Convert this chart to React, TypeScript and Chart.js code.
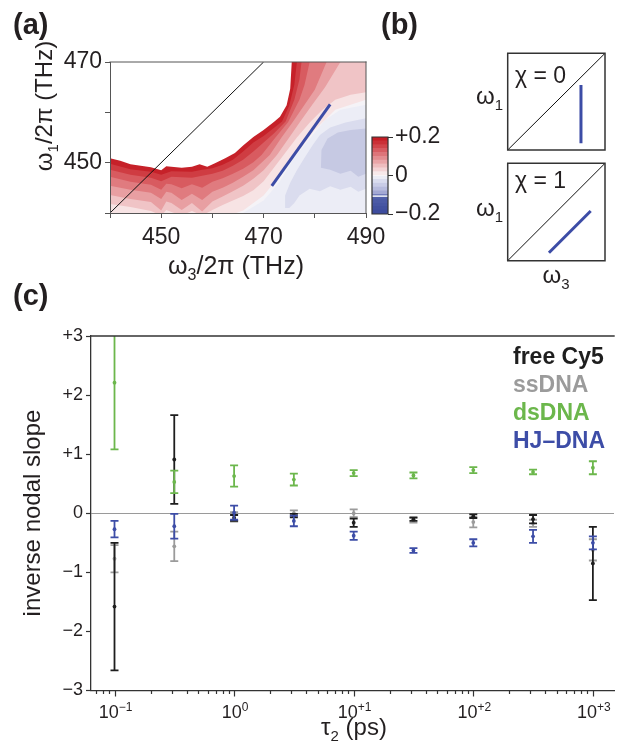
import React, { useEffect, useRef } from 'react';
import { Chart, registerables } from 'chart.js';

Chart.register(...registerables);

const FONT = "'Liberation Sans', Arial, Helvetica, sans-serif";
Chart.defaults.font.family = FONT;
const INK = '#231f20';
const AXIS = '#333333';

// ================= Panel (a): 2D map =================
const w3TickValues = [440, 450, 460, 470, 480, 490];
const w3TickLabels = ['', '450', '', '470', '', '490'];
const w1TickValues = [440, 450, 460, 470];
const w1TickLabels = ['', '450', '', '470'];

// upper boundary of the data (white above)
const maskEdge = [[440,450.9],[442,450.4],[444,449.7],[446,449.4],[448,449.1],[450,448.5],[451,449.3],[452,449.2],[454,449.0],[456,449.2],[457.5,449.7],[459,449.2],[460.5,449.9],[462.5,450.9],[464.4,451.9],[466,453.4],[468,455.1],[470,456.5],[472,458.1],[473.2,459.1],[474.5,461.4],[475.2,464.7],[475.5,470],[490,470]];
// positive contour lines (level: +0.16 ... +0.005)
const contourP16 = [[440,449.8],[444,448.7],[448,448.2],[450,447.6],[452,448.3],[456,448.2],[458,448.6],[460,448.9],[462,449.6],[464,450.6],[466,452.2],[468,454.0],[470,455.3],[472,456.9],[473.6,458.2],[475,461.3],[476,465.5],[476.5,470],[490,470]];
const contourP12 = [[440,448.6],[444,447.6],[448,447.0],[450,446.3],[452,447.2],[456,447.0],[458,447.4],[460,447.8],[462,448.4],[464,449.4],[466,450.6],[468,452.2],[470,454.0],[472,455.8],[474.3,458.2],[476,462.5],[477,466.5],[477.4,470],[490,470]];
const contourP09 = [[440,447.2],[444,446.2],[448,445.6],[450,444.6],[451,445.8],[452,445.7],[454,444.9],[456,445.7],[458,445.0],[460,446.2],[462,446.9],[464,447.8],[466,448.8],[468,450.1],[469.6,451.5],[472,454.6],[474.8,458.1],[477,462.5],[478,465.5],[479,470],[490,470]];
const contourP06 = [[440,445.4],[444,444.6],[448,444.0],[450,442.8],[451,444.2],[452,444.0],[454,442.6],[456,443.8],[458,442.6],[460,444.2],[462,445.0],[464,446.0],[466,447.2],[468,448.5],[471.2,451.5],[473.5,455],[475.7,458.1],[478,461.5],[480,464.5],[482.3,470],[490,470]];
const contourP04 = [[440,443.6],[444,442.8],[448,442.2],[450,440.5],[451,442.3],[452,442.0],[454,440.6],[456,442.0],[458,440.3],[460,442.3],[462,443.3],[464,444.3],[466,445.4],[468,446.8],[470,448.5],[472.6,451.5],[475,455],[477.1,458.1],[479.5,461.5],[482,465],[485,470],[490,470]];
const contourP02 = [[440,441.8],[444,441.2],[448,440.4],[450,439.5],[451,440.6],[452,440.2],[454,439.5],[456,440.4],[458,439.5],[460,440.6],[462,441.6],[464,442.5],[466,443.4],[468,444.5],[470,446.3],[473.9,451.5],[476.5,455],[479.1,458.1],[481.5,460.5],[484,462.5],[487,463.5],[490,464]];
const contourP005 = [[440,439],[462,439],[466,440.5],[470,443.5],[474,448.5],[477,452.5],[480,456.5],[484,460.5],[490,462.5]];
// negative contour regions (closed shapes)
const regionN01 = [[466,440],[470,442.5],[473,446],[476,451],[478,453.5],[480,456],[482,458.5],[485,460.5],[490,461.5],[490,440]];
const regionN04 = [[474.3,441],[474.2,443.5],[475.2,446],[476.5,448.5],[478,451],[479.6,453.5],[481,455.5],[483,457],[486,458],[490,458.8],[490,444.8],[488.5,444.2],[487,445.2],[485,444.6],[483,445.3],[481,444.3],[479,444.8],[477,443.5],[476,442],[475,441]];
const regionN07 = [[481.2,449],[481.3,452.5],[482.5,454.8],[484.5,456],[487,456.5],[490,456.8],[490,447.8],[488.5,447.2],[487,448.4],[485,447.8],[483,448.6]];
const diagonalA = [[440,440],[470,470]];
const nodalLineA = [[471.6,445.4],[483.0,461.6]];

const redContours = [contourP005, contourP02, contourP04, contourP06, contourP09, contourP12, contourP16];
const redColors = ['#f7e3e4', '#f0c4c6', '#e89fa2', '#e07b7f', '#d85b60', '#cf3c42', '#c62129'];
const blueRegions = [regionN01, regionN04, regionN07];
const blueColors = ['#ecedf6', '#dadcee', '#c6c9e3'];
const MAP_BG = '#f5f3f7';
const NODAL = '#3c4ca6';

// colour bar
const cbEdges = [-0.2,-0.18,-0.16,-0.14,-0.12,-0.1,-0.08,-0.06,-0.04,-0.02,0,0.02,0.04,0.06,0.08,0.1,0.12,0.14,0.16,0.18,0.2];
const cbColors = ['#3d4c9e','#42519f','#4756a3','#4c5ba6','#5260a9','#a4a9d4','#b7bbdd','#c9cce6','#dadcee','#ebecf5','#f7e9ea','#f3d3d5','#eebcbe','#e9a4a7','#e38c90','#dd7479','#d75c62','#d1454b','#cb3037','#c51d25'];
const cbSeparator = [-0.109, -0.105];
const cbTicks = [-0.2, 0, 0.2];
const cbTickLabels = ['\u22120.2', '0', '+0.2'];

// ================= Panel (b): schematics =================
const schematicDiagonal = [[0,0],[1,1]];
const nodalChi0 = [[0.753,0.069],[0.753,0.672]];
const nodalChi1 = [[0.424,0.082],[0.853,0.51]];

// ================= Panel (c): inverse nodal slope =================
const tau = [0.1, 0.316, 1, 3.16, 10, 31.6, 100, 316, 1000];
const tauDecades = [0.1, 1, 10, 100, 1000];
const tauDecadeExps = ['\u22121', '0', '+1', '+2', '+3'];
const slopeTickValues = [-3, -2, -1, 0, 1, 2, 3];
const slopeTickLabels = ['\u22123', '\u22122', '\u22121', '0', '+1', '+2', '+3'];
const seriesNames = ['free Cy5', 'ssDNA', 'dsDNA', 'HJ\u2013DNA'];
const freeCy5 = [-1.58, 0.91, -0.08, -0.04, -0.16, -0.10, -0.05, -0.10, -0.85];
const freeCy5Err = [1.08, 0.75, 0.05, 0.03, 0.07, 0.03, 0.03, 0.07, 0.62];
const ssDNA = [-0.77, -0.56, -0.06, 0.0, 0.0, -0.12, -0.15, -0.17, -0.62];
const ssDNAErr = [0.23, 0.25, 0.08, 0.05, 0.065, 0.04, 0.09, 0.06, 0.18];
const dsDNA = [2.21, 0.53, 0.63, 0.57, 0.68, 0.64, 0.73, 0.70, 0.77];
const dsDNAErr = [1.13, 0.19, 0.18, 0.10, 0.05, 0.05, 0.05, 0.04, 0.11];
const hjDNA = [-0.27, -0.22, 0.01, -0.13, -0.38, -0.63, -0.50, -0.39, -0.50];
const hjDNAErr = [0.14, 0.21, 0.12, 0.09, 0.07, 0.04, 0.06, 0.11, 0.11];
const seriesColors = ['#1e1e1e', '#9b9b9b', '#6cb74c', '#3d4da7'];

// ================= helpers =================
const pts = (arr: number[][]) => arr.map(([x, y]) => ({ x, y }));

type Part = { t: string; s?: 'sub' | 'sup' };
type TextItem = { parts: Part[]; x: number; y: number; size: number; bold?: boolean; color?: string; align?: 'left' | 'center' | 'right'; rotate?: number };

function drawRich(ctx: CanvasRenderingContext2D, it: TextItem) {
  const { parts, x, y, size, bold, color = INK, align = 'left', rotate = 0 } = it;
  const small = Math.round(size * 0.64);
  const font = (p: Part) => `${bold ? 'bold ' : ''}${p.s ? small : size}px ${FONT}`;
  ctx.save();
  ctx.translate(x, y);
  if (rotate) ctx.rotate(rotate);
  ctx.textAlign = 'left';
  ctx.textBaseline = 'alphabetic';
  ctx.fillStyle = color;
  const widths = parts.map((p) => { ctx.font = font(p); return ctx.measureText(p.t).width; });
  const total = widths.reduce((a, b) => a + b, 0);
  let cx = align === 'center' ? -total / 2 : align === 'right' ? -total : 0;
  const base = size * 0.36;
  parts.forEach((p, i) => {
    ctx.font = font(p);
    const dy = p.s === 'sub' ? size * 0.25 : p.s === 'sup' ? -size * 0.4 : 0;
    ctx.fillText(p.t, cx, base + dy);
    cx += widths[i];
  });
  ctx.restore();
}

const textPlugin = (id: string, items: TextItem[]) => ({
  id,
  afterDraw(chart: any) { items.forEach((it) => drawRich(chart.ctx, it)); },
});

const framePlugin = (id: string, sides: string[], color: string, width: number) => ({
  id,
  afterDatasetsDraw(chart: any) {
    const { ctx, chartArea: a } = chart;
    ctx.save();
    ctx.strokeStyle = color;
    ctx.lineWidth = width;
    ctx.lineCap = 'square';
    ctx.beginPath();
    if (sides.includes('top')) { ctx.moveTo(a.left, a.top); ctx.lineTo(a.right, a.top); }
    if (sides.includes('right')) { ctx.moveTo(a.right, a.top); ctx.lineTo(a.right, a.bottom); }
    if (sides.includes('bottom')) { ctx.moveTo(a.left, a.bottom); ctx.lineTo(a.right, a.bottom); }
    if (sides.includes('left')) { ctx.moveTo(a.left, a.top); ctx.lineTo(a.left, a.bottom); }
    ctx.stroke();
    ctx.restore();
  },
});

const areaBgPlugin = (id: string, color: string) => ({
  id,
  beforeDatasetsDraw(chart: any) {
    const { ctx, chartArea: a } = chart;
    ctx.save();
    ctx.fillStyle = color;
    ctx.fillRect(a.left, a.top, a.right - a.left, a.bottom - a.top);
    ctx.restore();
  },
});

const fixW = (w: number) => (s: any) => { s.width = w; s.paddingTop = 0; s.paddingBottom = 0; s.paddingLeft = 0; s.paddingRight = 0; };
const fixH = (h: number) => (s: any) => { s.height = h; s.paddingTop = 0; s.paddingBottom = 0; s.paddingLeft = 0; s.paddingRight = 0; };

const labelFrom = (values: number[], labels: string[]) => (v: any) => {
  const i = values.findIndex((t) => Math.abs(t - Number(v)) < 1e-6);
  return i >= 0 ? labels[i] : '';
};

// ================= configs =================
function makeMapConfig(): any {
  const datasets: any[] = [];
  blueRegions.forEach((r, i) => datasets.push({ data: pts(r), fill: 'shape', backgroundColor: blueColors[i], borderWidth: 0, borderColor: 'rgba(0,0,0,0)', pointRadius: 0, order: 40 - i }));
  redContours.forEach((c, i) => datasets.push({ data: pts(c), fill: 'end', backgroundColor: redColors[i], borderWidth: 0, borderColor: 'rgba(0,0,0,0)', pointRadius: 0, order: 30 - i }));
  datasets.push({ data: pts(maskEdge), fill: 'end', backgroundColor: '#ffffff', borderWidth: 0, borderColor: 'rgba(0,0,0,0)', pointRadius: 0, order: 20 });
  datasets.push({ data: pts(diagonalA), fill: false, borderColor: '#111111', borderWidth: 1, pointRadius: 0, order: 11 });
  datasets.push({ data: pts(nodalLineA), fill: false, borderColor: NODAL, borderWidth: 3, pointRadius: 0, order: 10 });
  const tickFont = { family: FONT, size: 23 };
  return {
    type: 'line',
    data: { datasets },
    options: {
      responsive: false, animation: false, events: [],
      layout: { padding: { left: 0, top: 62, right: 94, bottom: 0 } },
      plugins: { legend: { display: false }, tooltip: { enabled: false } },
      scales: {
        x: {
          type: 'linear', min: 440, max: 490,
          ticks: { stepSize: 10, autoSkip: false, maxRotation: 0, font: tickFont, color: INK, padding: 6, callback: labelFrom(w3TickValues, w3TickLabels) },
          grid: { drawOnChartArea: false, tickLength: 5, tickColor: '#555', tickWidth: 1 },
          border: { display: true, color: '#555', width: 1, z: 1 },
          afterFit: fixH(77),
        },
        y: {
          type: 'linear', min: 440, max: 470,
          ticks: { stepSize: 10, autoSkip: false, font: tickFont, color: INK, padding: 3, callback: labelFrom(w1TickValues, w1TickLabels) },
          grid: { drawOnChartArea: false, tickLength: 5, tickColor: '#555', tickWidth: 1 },
          border: { display: true, color: '#555', width: 1, z: 1 },
          afterFit: fixW(110),
        },
      },
    },
    plugins: [
      areaBgPlugin('mapBg', MAP_BG),
      framePlugin('mapFrame', ['top', 'right'], '#555', 1),
      textPlugin('mapTexts', [
        { parts: [{ t: '(a)' }], x: 13, y: 24, size: 29, bold: true },
        { parts: [{ t: '(b)' }], x: 381, y: 24, size: 29, bold: true },
        { parts: [{ t: '\u03c9' }, { t: '1', s: 'sub' }, { t: '/2\u03c0 (THz)' }], x: 43, y: 106, size: 24, align: 'center', rotate: -Math.PI / 2 },
        { parts: [{ t: '\u03c9' }, { t: '3', s: 'sub' }, { t: '/2\u03c0 (THz)' }], x: 236, y: 265, size: 25, align: 'center' },
      ]),
    ],
  };
}

function makeColorbarConfig(): any {
  const datasets: any[] = [{ data: [cbSeparator], backgroundColor: '#ffffff', borderWidth: 0, grouped: false, barPercentage: 1, categoryPercentage: 1, order: 0 }];
  cbColors.forEach((c, i) => datasets.push({ data: [[cbEdges[i], cbEdges[i + 1]]], backgroundColor: c, borderWidth: 0, grouped: false, barPercentage: 1, categoryPercentage: 1, order: 1 }));
  return {
    type: 'bar',
    data: { labels: [''], datasets },
    options: {
      responsive: false, animation: false, events: [],
      layout: { padding: { left: 22, top: 17, right: 0, bottom: 16 } },
      plugins: { legend: { display: false }, tooltip: { enabled: false } },
      scales: {
        x: { display: false },
        y: {
          position: 'right', min: -0.2, max: 0.2,
          ticks: { stepSize: 0.2, autoSkip: false, font: { family: FONT, size: 23 }, color: INK, padding: 2, callback: labelFrom(cbTicks, cbTickLabels) },
          grid: { drawOnChartArea: false, tickLength: 5, tickColor: AXIS, tickWidth: 1 },
          border: { display: false },
          afterFit: fixW(72),
        },
      },
    },
    plugins: [framePlugin('cbFrame', ['top', 'right', 'bottom', 'left'], AXIS, 1.2)],
  };
}

function makeSchematicConfig(id: string, nodal: number[][], bottomPad: number, texts: TextItem[]): any {
  return {
    type: 'line',
    data: {
      datasets: [
        { data: pts(nodal), borderColor: NODAL, borderWidth: 3, pointRadius: 0, fill: false },
        { data: pts(schematicDiagonal), borderColor: '#111111', borderWidth: 1, pointRadius: 0, fill: false },
      ],
    },
    options: {
      responsive: false, animation: false, events: [],
      layout: { padding: { left: 47.7, top: 13.3, right: 13, bottom: bottomPad } },
      plugins: { legend: { display: false }, tooltip: { enabled: false } },
      scales: {
        x: { type: 'linear', min: 0, max: 1, display: false },
        y: { type: 'linear', min: 0, max: 1, display: false },
      },
    },
    plugins: [framePlugin(id + 'Frame', ['top', 'right', 'bottom', 'left'], AXIS, 1.5), textPlugin(id + 'Texts', texts)],
  };
}

const errorBarsPlugin = {
  id: 'errorBars',
  afterDatasetDraw(chart: any, args: any) {
    const ds = chart.data.datasets[args.index];
    const errs: number[] = ds.errors;
    if (!errs) return;
    const { ctx, chartArea: a, scales } = chart;
    const x = scales.x, y = scales.y;
    ctx.save();
    ctx.beginPath();
    ctx.rect(a.left, a.top, a.right - a.left, a.bottom - a.top);
    ctx.clip();
    ctx.strokeStyle = ds.borderColor;
    ctx.lineWidth = 1.8;
    ds.data.forEach((p: any, i: number) => {
      const px = x.getPixelForValue(p.x);
      const yHi = y.getPixelForValue(p.y + errs[i]);
      const yLo = y.getPixelForValue(p.y - errs[i]);
      ctx.beginPath();
      ctx.moveTo(px, yHi); ctx.lineTo(px, yLo);
      ctx.moveTo(px - 4, yHi); ctx.lineTo(px + 4, yHi);
      ctx.moveTo(px - 4, yLo); ctx.lineTo(px + 4, yLo);
      ctx.stroke();
    });
    ctx.restore();
  },
};

const logAxisPlugin = {
  id: 'logAxis',
  afterDraw(chart: any) {
    const { ctx, chartArea: a, scales } = chart;
    const x = scales.x;
    ctx.save();
    ctx.strokeStyle = AXIS;
    ctx.lineWidth = 1.2;
    for (let e = -2; e <= 3; e++) {
      for (let s = 1; s <= 9; s++) {
        const v = s * Math.pow(10, e);
        if (v < x.min || v > x.max) continue;
        const px = Math.round(x.getPixelForValue(v)) + 0.5;
        const len = s === 1 ? 6 : 3.5;
        ctx.beginPath();
        ctx.moveTo(px, a.bottom);
        ctx.lineTo(px, a.bottom + len);
        ctx.stroke();
      }
    }
    ctx.restore();
    tauDecades.forEach((v, i) => drawRich(ctx, { parts: [{ t: '10' }, { t: tauDecadeExps[i], s: 'sup' }], x: x.getPixelForValue(v) + 1, y: a.bottom + 21.5, size: 18, align: 'center' }));
  },
};

const legendTextPlugin = {
  id: 'legendText',
  afterDraw(chart: any) {
    chart.data.datasets.forEach((ds: any, i: number) => {
      drawRich(chart.ctx, { parts: [{ t: ds.label }], x: 513, y: 76 + 28 * i, size: 23, bold: true, color: ds.borderColor });
    });
  },
};

function makeSlopeConfig(): any {
  const series = [
    [freeCy5, freeCy5Err, 2],
    [ssDNA, ssDNAErr, 3],
    [dsDNA, dsDNAErr, 1],
    [hjDNA, hjDNAErr, 0],
  ] as any[];
  const datasets = series.map(([vals, errs, order], i) => ({
    label: seriesNames[i],
    data: tau.map((t, j) => ({ x: t, y: vals[j] })),
    errors: errs,
    backgroundColor: seriesColors[i],
    borderColor: seriesColors[i],
    pointRadius: 1.9,
    pointBorderWidth: 0,
    order,
  }));
  return {
    type: 'scatter',
    data: { datasets },
    options: {
      responsive: false, animation: false, events: [],
      layout: { padding: { left: 0, top: 56, right: 0, bottom: 0 } },
      plugins: { legend: { display: false }, tooltip: { enabled: false } },
      scales: {
        x: {
          type: 'logarithmic', min: 0.0636, max: 1502,
          ticks: { display: false },
          grid: { display: false },
          border: { display: true, color: AXIS, width: 1.3, z: 1 },
          afterFit: fixH(51.5),
        },
        y: {
          type: 'linear', min: -3, max: 3,
          ticks: { stepSize: 1, autoSkip: false, font: { family: FONT, size: 18 }, color: INK, padding: 3, callback: labelFrom(slopeTickValues, slopeTickLabels) },
          grid: {
            color: (c: any) => (c.tick && c.tick.value === 0 ? '#9a9a9a' : 'rgba(0,0,0,0)'),
            lineWidth: 1, tickColor: AXIS, tickLength: 5, tickWidth: 1.2,
          },
          border: { display: true, color: AXIS, width: 1.3, z: 1 },
          afterFit: fixW(91),
        },
      },
    },
    plugins: [
      errorBarsPlugin,
      logAxisPlugin,
      legendTextPlugin,
      framePlugin('slopeFrame', ['top'], AXIS, 1.4),
      textPlugin('slopeTexts', [
        { parts: [{ t: '(c)' }], x: 13, y: 15, size: 29, bold: true },
        { parts: [{ t: 'inverse nodal slope' }], x: 31, y: 233, size: 24, align: 'center', rotate: -Math.PI / 2 },
        { parts: [{ t: '\u03c4' }, { t: '2', s: 'sub' }, { t: ' (ps)' }], x: 354, y: 446, size: 24, align: 'center' },
      ]),
    ],
  };
}

function ChartBox({ left, top, width, height, make }: { left: number; top: number; width: number; height: number; make: () => any }) {
  const ref = useRef<HTMLCanvasElement>(null);
  useEffect(() => {
    const chart = new Chart(ref.current as HTMLCanvasElement, make());
    return () => chart.destroy();
  }, []);
  return <canvas ref={ref} width={width} height={height} style={{ position: 'absolute', left, top, width, height }} />;
}

export default function App() {
  return (
    <div style={{ position: 'fixed', left: 0, top: 0, width: 618, height: 742, background: '#ffffff', overflow: 'hidden' }}>
      <ChartBox left={0} top={0} width={460} height={290} make={makeMapConfig} />
      <ChartBox left={350} top={120} width={110} height={110} make={makeColorbarConfig} />
      <ChartBox left={460} top={40} width={158} height={125} make={() => makeSchematicConfig('chi0', nodalChi0, 15, [
        { parts: [{ t: '\u03c7 = 0' }], x: 55, y: 35, size: 23 },
        { parts: [{ t: '\u03c9' }, { t: '1', s: 'sub' }], x: 43, y: 55.2, size: 24, align: 'right' },
      ])} />
      <ChartBox left={460} top={150} width={158} height={140} make={() => makeSchematicConfig('chi1', nodalChi1, 29.3, [
        { parts: [{ t: '\u03c7 = 1' }], x: 55, y: 30, size: 23 },
        { parts: [{ t: '\u03c9' }, { t: '1', s: 'sub' }], x: 43, y: 57.7, size: 24, align: 'right' },
        { parts: [{ t: '\u03c9' }, { t: '3', s: 'sub' }], x: 96, y: 124.7, size: 24, align: 'center' },
      ])} />
      <ChartBox left={0} top={280} width={618} height={462} make={makeSlopeConfig} />
    </div>
  );
}
